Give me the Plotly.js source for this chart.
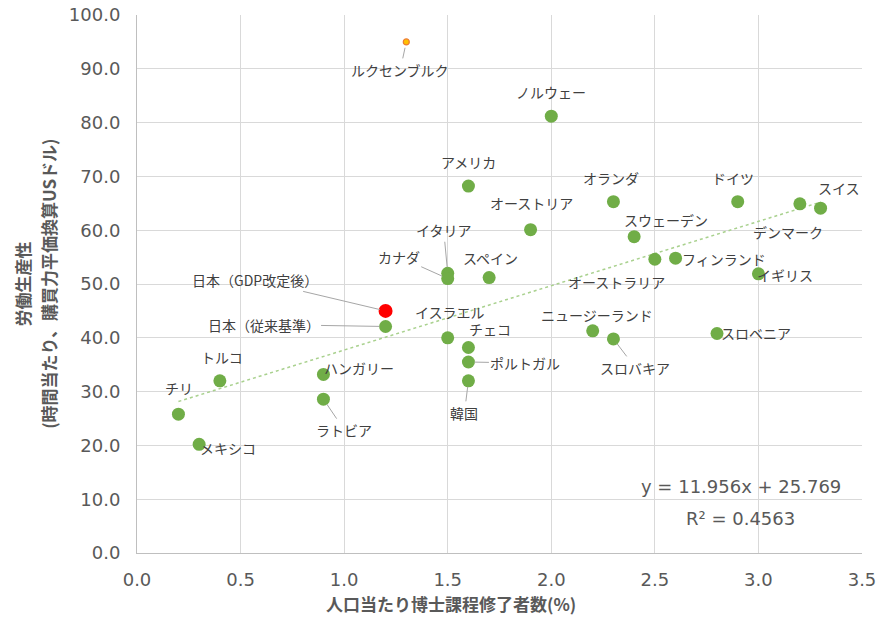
<!DOCTYPE html>
<html>
<head>
<meta charset="utf-8">
<script src="https://cdn.plot.ly/plotly-3.0.1.min.js"></script>
<style>html,body{margin:0;padding:0;background:#fff;}#chart{width:878px;height:617px;}</style>
</head>
<body>
<div id="chart"></div>
<script>
// ---- data ----
const countries = ['ノルウェー','アメリカ','オーストリア','イタリア','カナダ','スペイン','日本（従来基準）','イスラエル','チェコ','ポルトガル','韓国','ハンガリー','ラトビア','トルコ','チリ','メキシコ','ニュージーランド','スロバキア','スロベニア','オーストラリア','フィンランド','スウェーデン','オランダ','ドイツ','デンマーク','スイス','イギリス'];
const phdRate = [2.0,1.6,1.9,1.5,1.5,1.7,1.2,1.5,1.6,1.6,1.6,0.9,0.9,0.4,0.2,0.3,2.2,2.3,2.8,2.5,2.6,2.4,2.3,2.9,3.2,3.3,3.0];
const productivity = [81.2,68.2,60.1,52.0,51.0,51.2,42.1,40.0,38.2,35.5,32.0,33.2,28.6,32.0,25.8,20.2,41.3,39.8,40.8,54.6,54.8,58.8,65.3,65.3,64.9,64.1,51.9];
const japanRevisedName = ['日本（GDP改定後）'];
const japanRevisedX = [1.2];
const japanRevisedY = [45.0];
const luxName = ['ルクセンブルク'];
const luxX = [1.3];
const luxY = [95.0];
const trendSlope = 11.956;
const trendIntercept = 25.769;
const trendText = ['y = 11.956x + 25.769', 'R² = 0.4563'];
const xTitle = '人口当たり博士課程修了者数(%)';
const yTitle = ['労働生産性', '(時間当たり、購買力平価換算USドル)'];
const xTickVals = [0,0.5,1,1.5,2,2.5,3,3.5];
const xTickText = ['0.0','0.5','1.0','1.5','2.0','2.5','3.0','3.5'];
const yTickVals = [0,10,20,30,40,50,60,70,80,90,100];
const yTickText = ['0.0','10.0','20.0','30.0','40.0','50.0','60.0','70.0','80.0','90.0','100.0'];

// ---- label placement (pixel offsets, leader flag) ----
const labelPos = {
  'ノルウェー':[0,-24,false],'アメリカ':[0,-24,false],'オーストリア':[1,-27,false],
  'イタリア':[-4,-43,true],'カナダ':[-49,-22,true],'スペイン':[1,-20,false],
  '日本（従来基準）':[-122,-2,true],'イスラエル':[2,-26,false],'チェコ':[22,-18,false],
  'ポルトガル':[57,1,true],'韓国':[-4,32,true],'ハンガリー':[36,-6,true],
  'ラトビア':[21,31,true],'トルコ':[2,-24,false],'チリ':[1,-26,false],
  'メキシコ':[29,4,false],'ニュージーランド':[4,-16,false],'スロバキア':[22,29,true],
  'スロベニア':[39,-1,false],'オーストラリア':[-38,23,false],'フィンランド':[48,1,false],
  'スウェーデン':[32,-17,false],'オランダ':[-2,-24,false],'ドイツ':[-5,-24,false],
  'デンマーク':[-12,28,false],'スイス':[18,-20,false],'イギリス':[27,1,false],
  '日本（GDP改定後）':[-131,-31,true],'ルクセンブルク':[-6,28,true]
};

const jpFont = '"Noto Sans CJK JP", "Noto Sans", sans-serif';
const labelFont = {family: jpFont, size: 14, color: '#404040'};

const xMin = Math.min(...phdRate), xMax = Math.max(...phdRate);

const traces = [
  {x:[xMin,xMax], y:[trendSlope*xMin+trendIntercept, trendSlope*xMax+trendIntercept],
   mode:'lines', line:{color:'#A9D18E', width:1.5, dash:'dot'}, hoverinfo:'skip'},
  {x:phdRate, y:productivity, text:countries, mode:'markers',
   marker:{color:'#70AD47', size:13, line:{width:0}}},
  {x:japanRevisedX, y:japanRevisedY, text:japanRevisedName, mode:'markers',
   marker:{color:'#FF0000', size:14, line:{width:0}}},
  {x:luxX, y:luxY, text:luxName, mode:'markers',
   marker:{color:'#FFC000', size:6, line:{width:1.2, color:'#ED7D31'}}}
];

const annotations = [];
function addLabels(names, xs, ys){
  names.forEach((n,i)=>{
    const p = labelPos[n];
    if (p[2]) {
      annotations.push({x:xs[i], y:ys[i], xref:'x', yref:'y', text:n, showarrow:true,
        ax:p[0], ay:p[1], arrowhead:0, arrowwidth:1, arrowcolor:'#A6A6A6', standoff:6,
        font:labelFont});
    } else {
      annotations.push({x:xs[i], y:ys[i], xref:'x', yref:'y', text:n, showarrow:false,
        xshift:p[0], yshift:-p[1], font:labelFont});
    }
  });
}
addLabels(countries, phdRate, productivity);
addLabels(japanRevisedName, japanRevisedX, japanRevisedY);
addLabels(luxName, luxX, luxY);

const eqFont = {family:'"DejaVu Sans", Verdana, sans-serif', size:18, color:'#595959'};
annotations.push({xref:'paper', yref:'paper', x:0.833, y:0.123, xanchor:'center', yanchor:'middle', text:trendText[0], showarrow:false, font:eqFont});
annotations.push({xref:'paper', yref:'paper', x:0.833, y:0.065, xanchor:'center', yanchor:'middle', text:trendText[1], showarrow:false, font:eqFont});

// axis titles
const titleFont = {family:jpFont, size:17, color:'#595959'};
annotations.push({xref:'paper', yref:'paper', x:0.433, y:-0.094, xanchor:'center', yanchor:'middle',
  text:'<b>'+xTitle+'</b>', showarrow:false, font:{family:jpFont, size:17, color:'#595959'}});
annotations.push({xref:'paper', yref:'paper', x:-0.158, y:0.5, xanchor:'center', yanchor:'middle',
  textangle:-90, text:'<b>'+yTitle[0]+'</b>', showarrow:false, font:titleFont});
annotations.push({xref:'paper', yref:'paper', x:-0.123, y:0.5, xanchor:'center', yanchor:'middle',
  textangle:-90, text:'<b>'+yTitle[1]+'</b>', showarrow:false, font:titleFont});

const tickFont = {family:'"DejaVu Sans", Verdana, sans-serif', size:18, color:'#595959'};
const layout = {
  width:878, height:617,
  margin:{l:137, r:16, t:15, b:64},
  paper_bgcolor:'#fff', plot_bgcolor:'#fff',
  showlegend:false,
  xaxis:{range:[0,3.5], tickvals:xTickVals, ticktext:xTickText, tickfont:tickFont,
    showgrid:true, gridcolor:'#D9D9D9', gridwidth:1, zeroline:false,
    showline:true, linecolor:'#BFBFBF', linewidth:1, ticks:'', ticklen:0, ticklabelstandoff:10},
  yaxis:{range:[0,100], tickvals:yTickVals, ticktext:yTickText, tickfont:tickFont,
    showgrid:true, gridcolor:'#D9D9D9', gridwidth:1, zeroline:false,
    showline:true, linecolor:'#BFBFBF', linewidth:1, ticks:'', ticklen:0, ticklabelstandoff:12},
  annotations:annotations
};

Plotly.newPlot('chart', traces, layout, {displayModeBar:false, staticPlot:true});
</script>
</body>
</html>
